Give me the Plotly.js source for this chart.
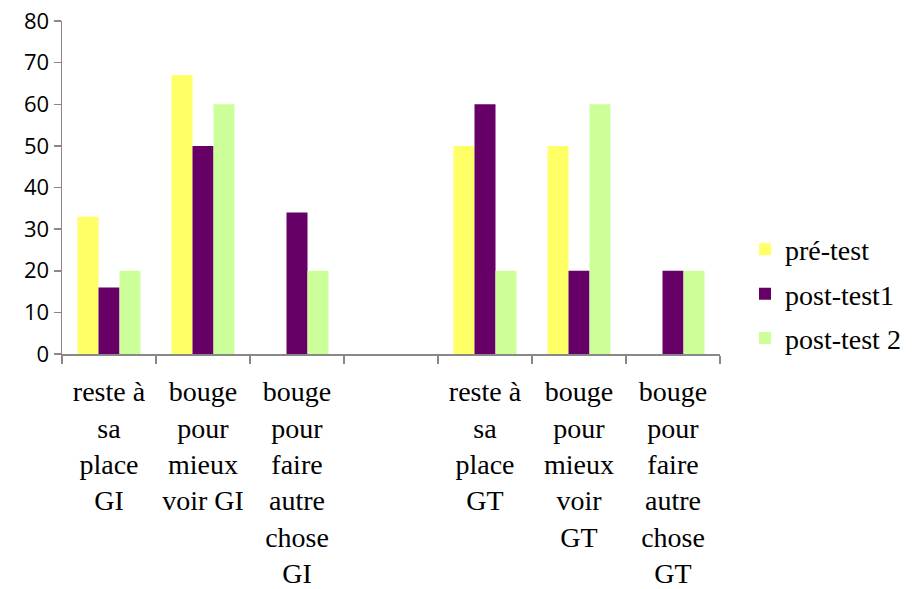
<!DOCTYPE html>
<html>
<head>
<meta charset="utf-8">
<script src="https://cdn.plot.ly/plotly-3.0.1.min.js"></script>
<style>html,body{margin:0;padding:0;background:#fff;}#chart{width:921px;height:589px;}</style>
</head>
<body>
<div id="chart"></div>
<script>
var categories = [
  "reste à<br>sa<br>place<br>GI",
  "bouge<br>pour<br>mieux<br>voir GI",
  "bouge<br>pour<br>faire<br>autre<br>chose<br>GI",
  " ",
  "reste à<br>sa<br>place<br>GT",
  "bouge<br>pour<br>mieux<br>voir<br>GT",
  "bouge<br>pour<br>faire<br>autre<br>chose<br>GT"
];
var preTest   = [33, 67, null, null, 50, 50, null];
var postTest1 = [16, 50, 34, null, 60, 20, 20];
var postTest2 = [20, 60, 20, null, 20, 60, 20];
var seriesNames = ["pré-test", "post-test1", "post-test 2"];
var yTicks = [0, 10, 20, 30, 40, 50, 60, 70, 80];

var serif = "Liberation Serif";
var colors = ["#FFFF66", "#660066", "#CCFF99"];
var data = [preTest, postTest1, postTest2].map(function (vals, i) {
  return {
    type: "bar",
    x: categories,
    y: vals,
    name: seriesNames[i],
    legendgroup: "g" + i,
    marker: {color: colors[i], line: {width: 0}},
    hoverinfo: "none"
  };
});

var layout = {
  width: 921,
  height: 589,
  margin: {l: 62, r: 201, t: 21, b: 235},
  paper_bgcolor: "#fff",
  plot_bgcolor: "#fff",
  font: {family: "Open Sans", size: 24, color: "#000"},
  barmode: "group",
  bargap: 0.33,
  bargroupgap: 0,
  showlegend: true,
  legend: {
    x: 1.038, xanchor: "left",
    y: 0.18, yanchor: "middle",
    traceorder: "grouped",
    tracegroupgap: 5,
    font: {family: serif, size: 28, color: "#000"},
    itemwidth: 30
  },
  xaxis: {
    type: "category",
    tickson: "boundaries",
    ticks: "outside",
    ticklen: 8,
    tickcolor: "#888",
    tickwidth: 1.5,
    showline: true,
    linecolor: "#888",
    linewidth: 1.5,
    showgrid: false,
    zeroline: false,
    tickangle: 0,
    ticklabelstandoff: 12,
    tickfont: {family: serif, size: 28, color: "#000"}
  },
  yaxis: {
    range: [0, 80],
    tickvals: yTicks,
    ticktext: yTicks.map(String),
    ticks: "outside",
    ticklen: 7,
    tickcolor: "#888",
    tickwidth: 1.5,
    showline: true,
    linecolor: "#888",
    linewidth: 1.5,
    showgrid: false,
    zeroline: false,
    tickfont: {family: "Open Sans", size: 22, color: "#000"}
  }
};

Plotly.newPlot("chart", data, layout, {displayModeBar: false, staticPlot: true});
</script>
</body>
</html>
